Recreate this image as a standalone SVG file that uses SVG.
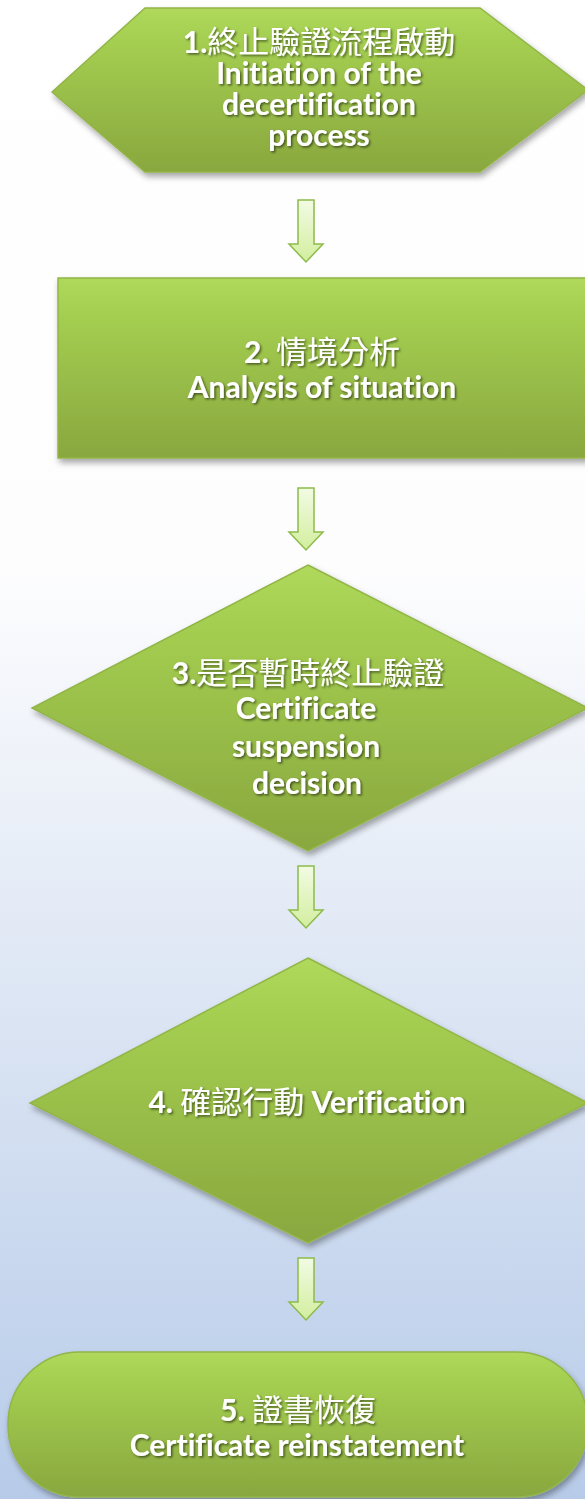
<svg xmlns="http://www.w3.org/2000/svg" width="585" height="1499" viewBox="0 0 585 1499">
<defs>
<linearGradient id="bg" x1="0" y1="0" x2="0" y2="1">
<stop offset="0" stop-color="#ffffff"/>
<stop offset="0.38" stop-color="#fdfdfe"/>
<stop offset="0.6" stop-color="#e4ebf6"/>
<stop offset="1" stop-color="#b7cbe9"/>
</linearGradient>
<linearGradient id="g" x1="0" y1="0" x2="0" y2="1">
<stop offset="0" stop-color="#b0d95c"/>
<stop offset="0.15" stop-color="#a6d152"/>
<stop offset="1" stop-color="#89a73e"/>
</linearGradient>
<linearGradient id="ag" x1="0" y1="0" x2="0" y2="1">
<stop offset="0" stop-color="#f2fbe4"/>
<stop offset="1" stop-color="#d2ee9e"/>
</linearGradient>
<filter id="sh" x="-10%" y="-10%" width="125%" height="130%">
<feDropShadow dx="2" dy="4" stdDeviation="3" flood-color="#000" flood-opacity="0.35"/>
</filter>
<filter id="tsh" x="-10%" y="-20%" width="120%" height="160%">
<feDropShadow dx="1.5" dy="1.5" stdDeviation="1" flood-color="#000" flood-opacity="0.55"/>
</filter>
<path id="arrow" d="M-8,0 H8 V44 H17 L0,62 L-17,44 H-8 Z"/>
</defs>
<style>
.node{fill:url(#g);stroke:#92b548;stroke-width:1.5;filter:url(#sh)}
.arr{fill:url(#ag);stroke:#8dbb4a;stroke-width:1.5}
.t{fill:#ffffff;text-anchor:middle;filter:url(#tsh);font-variant-ligatures:none}
.en{font-family:Lato,"Liberation Sans",sans-serif;font-weight:bold;font-size:30px}
.cj{font-family:"Noto Sans CJK TC","Noto Sans CJK SC",sans-serif;font-weight:normal;font-size:31px}
.num{font-family:Lato,"Liberation Sans",sans-serif;font-weight:bold;font-size:30px}
</style>
<rect x="0" y="0" width="585" height="1499" fill="url(#bg)"/>

<g id="connectors">
<use href="#arrow" class="arr" x="306" y="200"/>
<use href="#arrow" class="arr" x="306" y="488"/>
<use href="#arrow" class="arr" x="306" y="866"/>
<use href="#arrow" class="arr" x="306" y="1258"/>
</g>

<g id="node1">
<polygon class="node" points="52,92 145,8 480,8 588,90 480,172 145,172"/>
<text class="t" x="319" y="53"><tspan class="num">1.</tspan><tspan class="cj">終止驗證流程啟動</tspan></text>
<text class="t en" x="319" y="84">Initiation of the</text>
<text class="t en" x="319" y="115">decertification</text>
<text class="t en" x="319" y="146">process</text>
</g>

<g id="node2">
<rect class="node" x="58" y="278" width="540" height="180"/>
<text class="t" x="322" y="363"><tspan class="num">2. </tspan><tspan class="cj">情境分析</tspan></text>
<text class="t en" x="322" y="398">Analysis of situation</text>
</g>

<g id="node3">
<polygon class="node" points="308,565 588,708 308,851 32,708"/>
<text class="t" x="308" y="684"><tspan class="num">3.</tspan><tspan class="cj">是否暫時終止驗證</tspan></text>
<text class="t en" x="306" y="719">Certificate</text>
<text class="t en" x="306" y="757">suspension</text>
<text class="t en" x="307" y="794">decision</text>
</g>

<g id="node4">
<polygon class="node" points="308,958 588,1103 308,1243 30,1103"/>
<text class="t" x="307" y="1113"><tspan class="num">4. </tspan><tspan class="cj">確認行動</tspan><tspan class="en"> Verification</tspan></text>
</g>

<g id="node5">
<rect class="node" x="8" y="1352" width="580" height="145" rx="72" ry="72"/>
<text class="t" x="298" y="1421"><tspan class="num">5. </tspan><tspan class="cj">證書恢復</tspan></text>
<text class="t en" x="297" y="1456">Certificate reinstatement</text>
</g>
</svg>
